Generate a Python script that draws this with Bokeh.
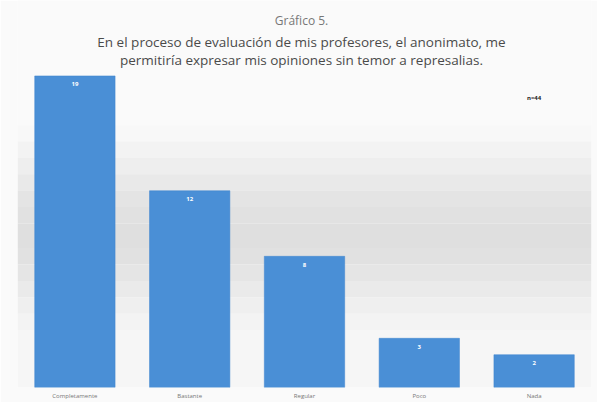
from bokeh.plotting import figure
from bokeh.models import ColumnDataSource, BoxAnnotation, FactorRange
from bokeh.core.properties import value
from bokeh.embed import file_html
from bokeh.resources import INLINE

categories = ["Completamente", "Bastante", "Regular", "Poco", "Nada"]
counts = [19, 12, 8, 3, 2]
title_lines = ["Gráfico 5.",
               "En el proceso de evaluación de mis profesores, el anonimato, me",
               "permitiría expresar mis opiniones sin temor a represalias."]
n_label = "n=44"

FONT = "Open Sans"

p = figure(x_range=FactorRange(*categories, range_padding=0.0), y_range=(0, 23.6),
           width=597, height=402, output_backend="svg", toolbar_location=None,
           min_border_left=17, min_border_right=6, min_border_top=0, min_border_bottom=0)

p.background_fill_color = "#fafafa"
p.border_fill_color = "#fafafa"
p.outline_line_color = None

# gradient-like background bands
grays = ["#f8f8f8", "#f3f3f3", "#eeeeee", "#e9e9e9", "#e4e4e4", "#e1e1e1", "#dfdfdf",
         "#e1e1e1", "#e5e5e5", "#eaeaea", "#efefef", "#f3f3f3", "#f6f6f6"]
band_edges = [16, 15, 14, 13, 12, 11, 10, 8.5, 7.5, 6.5, 5.5, 4.5, 3.5, 0]
for i, g in enumerate(grays):
    p.add_layout(BoxAnnotation(bottom=band_edges[i + 1], top=band_edges[i],
                               fill_color=g, fill_alpha=1.0, line_color=None,
                               level="underlay"))

src = ColumnDataSource(dict(cat=categories, val=counts, lab=[str(v) for v in counts],
                            ly=[v - 0.5 for v in counts]))
p.vbar(x="cat", top="val", width=0.7, source=src, fill_color="#4a8fd6",
       line_color="#3f85cf", line_width=0.5)
p.text(x="cat", y="ly", text="lab", source=src, text_color="white",
       text_font=value(FONT), text_font_size="6px", text_font_style="bold",
       text_align="center", text_baseline="middle")

# titles
p.text(x=["Regular"], y=[22.4], text=[title_lines[0]], text_color="#777777",
       text_font=value(FONT), text_font_size="12px", text_align="center",
       text_baseline="middle", x_offset=-3)
p.text(x=["Regular", "Regular"], y=[21.05, 19.95], text=title_lines[1:],
       text_color="#4a4a4a", text_font=value(FONT), text_font_size="13.5px",
       text_align="center", text_baseline="middle", x_offset=-3)
p.text(x=["Nada"], y=[17.65], text=[n_label], text_color="#222222",
       text_font=value(FONT), text_font_size="6px", text_font_style="bold",
       text_align="center", text_baseline="middle")

p.yaxis.visible = False
p.xgrid.grid_line_color = None
p.ygrid.grid_line_color = None
p.xaxis.axis_line_color = None
p.xaxis.major_tick_line_color = None
p.xaxis.minor_tick_line_color = None
p.xaxis.major_tick_out = 0
p.xaxis.major_tick_in = 0
p.xaxis.major_label_text_font = FONT
p.xaxis.major_label_text_font_size = "6px"
p.xaxis.major_label_text_color = "#777777"
p.xaxis.major_label_standoff = 4

open("out.html", "w").write(file_html(p, INLINE))
